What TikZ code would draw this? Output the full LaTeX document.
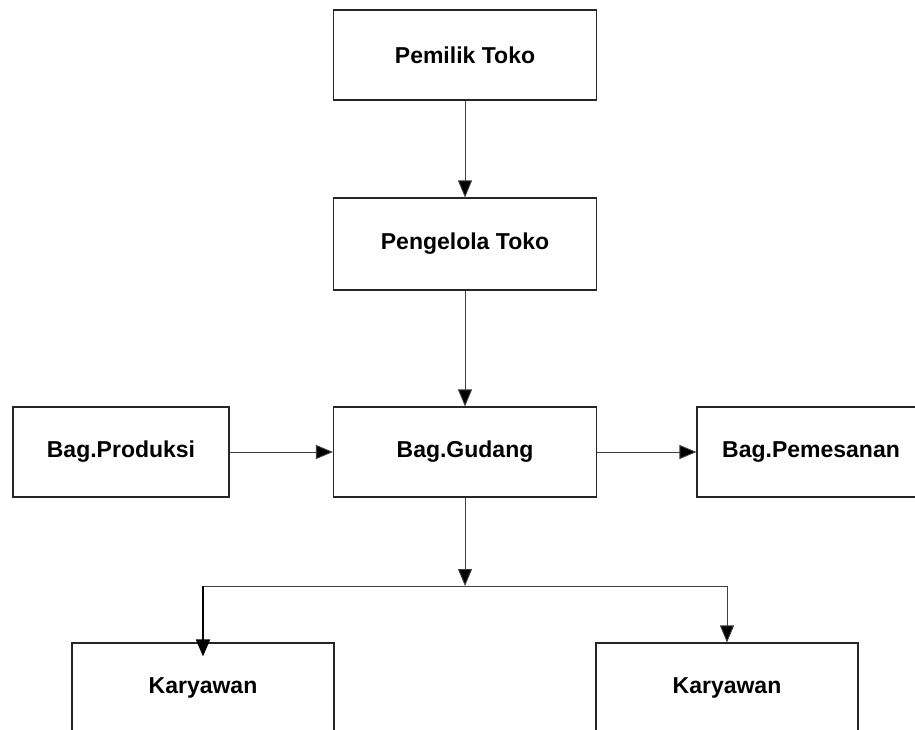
\documentclass[tikz,border=0pt]{standalone}
\usepackage{fontspec}
\setmainfont{Liberation Sans}
\usetikzlibrary{arrows.meta,positioning}

\tikzset{
  unitbox/.style = {draw = black!85, line width = 1.1pt, shape = rectangle, fill = white,
    minimum height = 90pt, inner sep = 0pt, font = \fontsize{23}{27}\selectfont\bfseries},
  flow/.style = {draw = black!75, line width = 0.9pt,
    -{Triangle[length = 17pt, width = 14pt, fill = black]}}
}

\begin{document}
\begin{tikzpicture}[x = 1pt, y = -1pt]
\useasboundingbox (0,0) rectangle (915,729);
\node[unitbox, minimum width = 263pt] (pemilik)   at (465,55)   {Pemilik Toko};
\node[unitbox, minimum width = 263pt, minimum height = 92pt] (pengelola) at (465,244) {Pengelola Toko};
\node[unitbox, minimum width = 263pt] (gudang)    at (465,452)  {Bag.Gudang};
\node[unitbox, minimum width = 216pt] (produksi)  at (121,452)  {Bag.Produksi};
% box runs past the right edge, text sits left of its centre
\node[unitbox, minimum width = 256pt] (pemesanan) at (825,452)  {\hspace*{-28pt}Bag.Pemesanan};
\node[unitbox, minimum width = 262pt] (karyawanA) at (203,688)  {Karyawan};
\node[unitbox, minimum width = 262pt] (karyawanB) at (727,688)  {Karyawan};
\coordinate (split) at (465,586);
\coordinate (splitA) at (203,586);
\coordinate (splitB) at (727,586);

\draw[flow] (pemilik) -- (pengelola);
\draw[flow] (pengelola) -- (gudang);
\draw[flow] (produksi) -- (gudang);
\draw[flow] (gudang) -- (pemesanan);
\draw[flow] (gudang) -- (split);
\draw[draw = black!75, line width = 0.9pt] (splitA) -- (splitB);
\draw[flow, line width = 1.8pt, draw = black] (splitA) -- ([yshift = -14pt]karyawanA.north);
\draw[flow] (splitB) -- (karyawanB);
\end{tikzpicture}
\end{document}
